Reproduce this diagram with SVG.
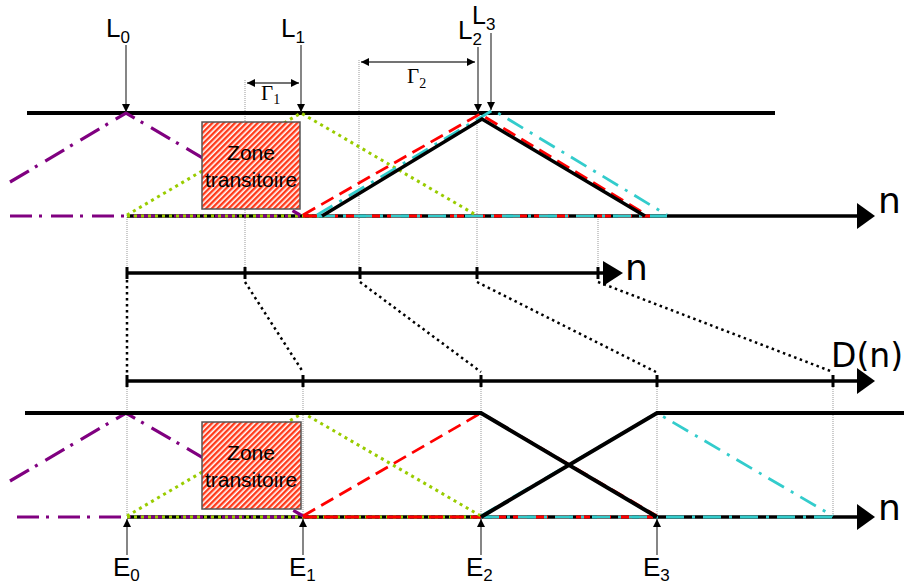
<svg xmlns="http://www.w3.org/2000/svg" width="904" height="586" viewBox="0 0 904 586">
<style>
.lbl{font-family:"Liberation Sans",Arial,sans-serif;fill:#000}
.big{font-family:"DejaVu Sans",sans-serif;fill:#000}
.gam{font-family:"Liberation Serif","Times New Roman",serif;fill:#000}
.thick{stroke:#000;stroke-width:4;fill:none}
.sol{stroke:#000;stroke-width:3.5;fill:none;stroke-linejoin:miter}
.pur{stroke:#800080;stroke-width:3.2;fill:none;stroke-dasharray:22 7 3 9}
.grn{stroke:#99cc00;stroke-width:3;fill:none;stroke-dasharray:3 4}
.red{stroke:#ff0000;stroke-width:2.8;fill:none;stroke-dasharray:14 7}
.cyn{stroke:#33cccc;stroke-width:2.8;fill:none;stroke-dasharray:18 8 3 8}
.guide{stroke:#999;stroke-width:1;stroke-dasharray:1 1;fill:none}
.dot{stroke:#000;stroke-width:2.5;stroke-dasharray:2.5 3.5;fill:none}
.ptr{stroke:#444;stroke-width:1.3;fill:none}
.tick{stroke:#000;stroke-width:3}
.box{fill:url(#hatch);stroke:#555;stroke-width:1.5}
</style>
<defs>
<pattern id="hatch" width="4" height="4" patternUnits="userSpaceOnUse" patternTransform="rotate(45)">
<rect width="4" height="4" fill="#ffffff"/>
<rect width="2.4" height="4" fill="#ff3a1a"/>
</pattern>
<marker id="ah" markerWidth="8" markerHeight="8" refX="8" refY="4" orient="auto" markerUnits="userSpaceOnUse">
<path d="M0,0 L8,4 L0,8 Z" fill="#000"/>
</marker>
<marker id="ahs" markerWidth="8" markerHeight="8" refX="0" refY="4" orient="auto" markerUnits="userSpaceOnUse">
<path d="M8,0 L0,4 L8,8 Z" fill="#000"/>
</marker>
</defs>
<rect width="904" height="586" fill="#fff"/>

<g id="guides">
<line class="guide" x1="127" y1="215" x2="127" y2="273"/>
<line class="guide" x1="245" y1="80" x2="245" y2="273"/>
<line class="guide" x1="359" y1="60" x2="359" y2="273"/>
<line class="guide" x1="477" y1="113" x2="477" y2="273"/>
<line class="guide" x1="598" y1="215" x2="598" y2="273"/>
<line class="guide" x1="127" y1="381" x2="127" y2="517"/>
<line class="guide" x1="303" y1="381" x2="303" y2="517"/>
<line class="guide" x1="481" y1="381" x2="481" y2="517"/>
<line class="guide" x1="657" y1="381" x2="657" y2="517"/>
<line class="guide" x1="833" y1="381" x2="833" y2="517"/>
</g>

<g id="top-section">
<line class="thick" x1="27" y1="113" x2="775" y2="113"/>
<line x1="127" y1="216" x2="858" y2="216" stroke="#000" stroke-width="3.5"/>
<polygon points="857,203 875,216 857,229" fill="#000"/>
<line class="pur" x1="10" y1="216" x2="300" y2="216"/>
<line class="grn" x1="127" y1="216" x2="330" y2="216"/>
<line class="red" x1="303" y1="216" x2="650" y2="216"/>
<line class="cyn" x1="317" y1="216" x2="667" y2="216"/>
<polyline class="pur" points="10,182 126,113 300,215"/>
<polyline class="grn" points="127,215 301,113 476,215"/>
<polyline class="red" points="303,215 480,114 647,215"/>
<polyline class="cyn" points="317,215 493,110 667,215"/>
<polyline class="sol" points="322,216 482,119 645,216"/>
</g>

<g id="zone-top">
<rect class="box" x="202" y="122" width="98" height="87"/>
<text class="lbl" x="251" y="160" font-size="21" text-anchor="middle">Zone</text>
<text class="lbl" x="251" y="187" font-size="21" text-anchor="middle">transitoire</text>
</g>

<g id="labels-L">
<line class="ptr" x1="126" y1="45" x2="126" y2="112" marker-end="url(#ah)"/>
<text class="lbl" x="106" y="37" font-size="26">L<tspan font-size="17" dy="6">0</tspan></text>
<line class="ptr" x1="301" y1="45" x2="301" y2="112" marker-end="url(#ah)"/>
<text class="lbl" x="281" y="37" font-size="26">L<tspan font-size="17" dy="6">1</tspan></text>
<line class="ptr" x1="478" y1="47" x2="478" y2="112" marker-end="url(#ah)"/>
<text class="lbl" x="458" y="39" font-size="26">L<tspan font-size="17" dy="6">2</tspan></text>
<line class="ptr" x1="491" y1="33" x2="491" y2="110" marker-end="url(#ah)"/>
<text class="lbl" x="472" y="24" font-size="25">L<tspan font-size="17" dy="6">3</tspan></text>
</g>

<g id="gamma">
<line class="ptr" x1="247" y1="83" x2="299" y2="83" marker-start="url(#ahs)" marker-end="url(#ah)"/>
<text class="gam" x="261" y="100" font-size="21">Γ<tspan font-size="14" dy="4">1</tspan></text>
<line class="ptr" x1="361" y1="62" x2="475" y2="62" marker-start="url(#ahs)" marker-end="url(#ah)"/>
<text class="gam" x="407" y="83" font-size="21">Γ<tspan font-size="14" dy="5">2</tspan></text>
</g>

<g id="axis-n">
<line x1="127" y1="273" x2="605" y2="273" stroke="#000" stroke-width="3.5"/>
<polygon points="603,261 623,273 603,286" fill="#000"/>
<line class="tick" x1="127" y1="267" x2="127" y2="279"/>
<line class="tick" x1="245" y1="267" x2="245" y2="279"/>
<line class="tick" x1="360" y1="267" x2="360" y2="279"/>
<line class="tick" x1="477" y1="267" x2="477" y2="279"/>
<line class="tick" x1="598" y1="267" x2="598" y2="279"/>
<text class="big" x="625" y="280" font-size="36">n</text>
</g>

<g id="axis-D">
<line x1="127" y1="381" x2="858" y2="381" stroke="#000" stroke-width="3.5"/>
<polygon points="857,368 875,381 857,394" fill="#000"/>
<line class="tick" x1="127" y1="375" x2="127" y2="387"/>
<line class="tick" x1="303" y1="375" x2="303" y2="387"/>
<line class="tick" x1="481" y1="375" x2="481" y2="387"/>
<line class="tick" x1="657" y1="375" x2="657" y2="387"/>
<line class="tick" x1="833" y1="375" x2="833" y2="387"/>
<text class="big" x="831" y="367" font-size="33">D(n)</text>
</g>

<g id="connectors">
<line class="dot" x1="127" y1="280" x2="127" y2="373" stroke-width="3.5"/>
<line class="dot" x1="245" y1="282" x2="303" y2="372"/>
<line class="dot" x1="360" y1="282" x2="481" y2="372"/>
<line class="dot" x1="477" y1="282" x2="656" y2="372"/>
<line class="dot" x1="598" y1="282" x2="833" y2="372"/>
</g>

<g id="bottom-section">
<line x1="127" y1="517" x2="858" y2="517" stroke="#000" stroke-width="3.5"/>
<polygon points="857,504 875,517 857,530" fill="#000"/>
<line class="pur" x1="17" y1="517" x2="303" y2="517"/>
<line class="grn" x1="127" y1="517" x2="481" y2="517"/>
<line class="red" x1="303" y1="517" x2="657" y2="517"/>
<line class="cyn" x1="481" y1="517" x2="833" y2="517"/>
<polyline class="pur" points="10,481 126,413 303,516"/>
<polyline class="grn" points="127,516 303,413 481,516"/>
<polyline class="red" points="303,516 481,413 657,516"/>
<polyline class="cyn" points="481,516 657,413 833,516"/>
<polyline class="thick" points="25,413 481,413 657,517"/>
<polyline class="thick" points="481,517 657,413 904,413"/>
</g>

<g id="zone-bottom">
<rect class="box" x="202" y="422" width="99" height="87"/>
<text class="lbl" x="251" y="460" font-size="21" text-anchor="middle">Zone</text>
<text class="lbl" x="251" y="487" font-size="21" text-anchor="middle">transitoire</text>
</g>

<g id="labels-E">
<line class="ptr" x1="127" y1="555" x2="127" y2="519" marker-end="url(#ah)"/>
<text class="lbl" x="113" y="576" font-size="26">E<tspan font-size="17" dy="5">0</tspan></text>
<line class="ptr" x1="303" y1="555" x2="303" y2="519" marker-end="url(#ah)"/>
<text class="lbl" x="289" y="576" font-size="26">E<tspan font-size="17" dy="5">1</tspan></text>
<line class="ptr" x1="481" y1="555" x2="481" y2="519" marker-end="url(#ah)"/>
<text class="lbl" x="466" y="576" font-size="26">E<tspan font-size="17" dy="5">2</tspan></text>
<line class="ptr" x1="657" y1="555" x2="657" y2="519" marker-end="url(#ah)"/>
<text class="lbl" x="643" y="576" font-size="26">E<tspan font-size="17" dy="5">3</tspan></text>
</g>

<g id="label-n">
<text class="big" x="878" y="213" font-size="36">n</text>
<text class="big" x="878" y="520" font-size="36">n</text>
</g>
</svg>
